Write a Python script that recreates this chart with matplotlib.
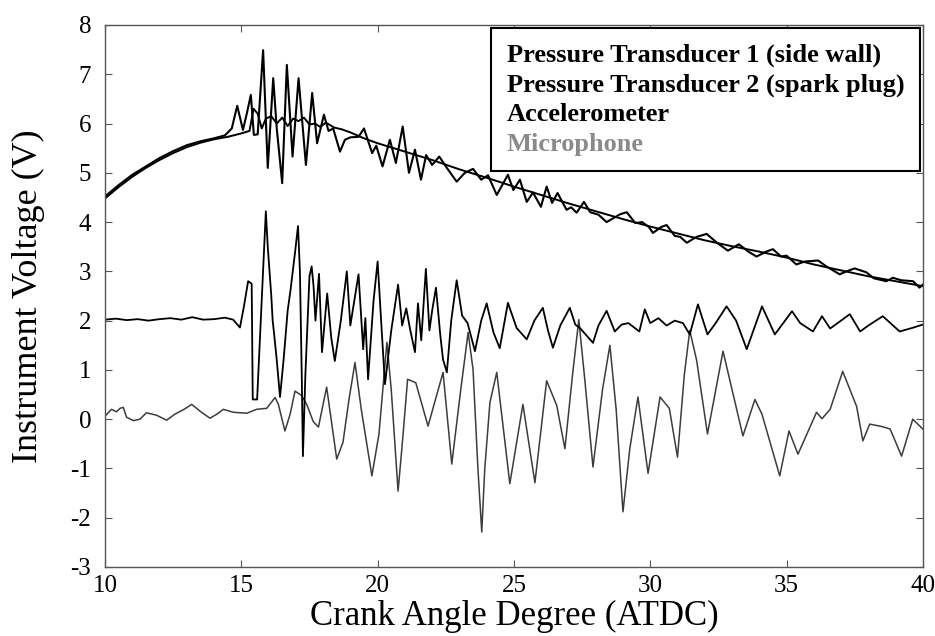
import matplotlib
matplotlib.use("Agg")
import matplotlib.pyplot as plt
from matplotlib.lines import Line2D
from matplotlib.font_manager import FontProperties

# Pressure transducer 1 (side wall): knocking trace
p1_x = [10.0, 10.5, 11.0, 11.5, 12.0, 12.5, 13.0, 13.5, 14.0, 14.4, 14.65, 14.85,
        15.06, 15.2, 15.35, 15.46, 15.6, 15.8, 15.97, 16.17, 16.3, 16.5, 16.67,
        16.88, 17.1, 17.37, 17.6, 17.78, 18.03, 18.2, 18.37, 18.62, 18.8, 19.0,
        19.3, 19.5, 19.8, 19.95, 20.18, 20.45, 20.67, 20.92, 21.15, 21.37, 21.59,
        21.78, 22.0, 22.26, 22.54, 22.9, 23.2, 23.5, 23.8, 24.05, 24.37, 24.78,
        24.98, 25.22, 25.47, 25.7, 25.99, 26.2, 26.4, 26.6, 26.93, 27.1, 27.3,
        27.57, 27.8, 28.1, 28.4, 28.65, 28.9, 29.14, 29.45, 29.7, 29.95, 30.1,
        30.4, 30.6, 30.9, 31.1, 31.34, 31.7, 32.07, 32.45, 32.85, 33.25, 33.6,
        33.9, 34.25, 34.5, 34.8, 35.0, 35.36, 35.67, 36.16, 36.46, 36.95, 37.2,
        37.5, 37.93, 38.2, 38.66, 38.9, 39.2, 39.64, 39.88, 40.0]
p1_y = [4.52, 4.75, 4.96, 5.13, 5.3, 5.44, 5.56, 5.64, 5.7, 5.76, 5.9, 6.36,
        5.87, 6.2, 6.58, 5.77, 5.78, 7.49, 5.1, 6.92, 5.9, 4.79, 7.19,
        5.33, 6.92, 5.16, 6.62, 5.6, 6.18, 5.85, 5.9, 5.43, 5.67, 5.72,
        5.73, 5.9, 5.4, 5.55, 5.13, 5.67, 5.2, 5.94, 5.0, 5.47, 4.86,
        5.36, 5.16, 5.33, 5.1, 4.82, 5.0, 5.08, 4.86, 4.95, 4.55, 4.96,
        4.65, 4.86, 4.41, 4.6, 4.31, 4.72, 4.39, 4.59, 4.25, 4.3, 4.19,
        4.41, 4.2, 4.15, 4.0, 4.08, 4.16, 4.2, 3.98, 4.0, 3.9, 3.78,
        3.9, 3.94, 3.72, 3.7, 3.58, 3.7, 3.76, 3.58, 3.42, 3.55, 3.4,
        3.3, 3.4, 3.45, 3.3, 3.32, 3.14, 3.2, 3.22, 3.1, 2.94, 3.0,
        3.06, 2.98, 2.86, 2.8, 2.87, 2.82, 2.8, 2.67, 2.73]

# Pressure transducer 2 (spark plug): smoother trace
p2_x = [10.0, 10.5, 11.0, 11.5, 12.0, 12.5, 13.0, 13.5, 14.0, 14.5, 15.0, 15.3,
        15.45, 15.6, 15.75, 15.9, 16.1, 16.3, 16.5, 16.7, 16.9, 17.1, 17.3, 17.5,
        17.7, 17.9, 18.1, 18.4, 18.7, 19.0, 19.5, 20.0, 21.0, 22.0, 23.0, 24.0,
        25.0, 26.0, 27.0, 28.0, 29.0, 30.0, 31.0, 32.0, 33.0, 34.0, 35.0, 36.0,
        37.0, 38.0, 39.0, 40.0]
p2_y = [4.48, 4.71, 4.92, 5.1, 5.26, 5.4, 5.52, 5.61, 5.68, 5.73, 5.8, 5.85,
        6.3, 6.2, 5.9, 6.1, 6.15, 6.0, 6.12, 5.95, 6.1, 6.05, 6.12, 5.98,
        6.0, 5.93, 6.02, 5.92, 5.88, 5.82, 5.7, 5.6, 5.43, 5.26, 5.07, 4.9,
        4.72, 4.55, 4.38, 4.22, 4.06, 3.91, 3.77, 3.63, 3.51, 3.4, 3.28, 3.14,
        3.02, 2.9, 2.8, 2.7]

# Accelerometer
acc_x = [10.0, 10.4, 10.8, 11.2, 11.6, 12.0, 12.4, 12.8, 13.2, 13.6, 14.0, 14.4,
         14.7, 14.95, 15.1, 15.25, 15.38, 15.42, 15.58, 15.9, 15.97, 16.1, 16.15,
         16.2, 16.3, 16.42, 16.55, 16.7, 16.8, 16.97, 17.08, 17.15, 17.22, 17.26,
         17.35, 17.5, 17.58, 17.65, 17.72, 17.85, 17.96, 18.15, 18.3, 18.43, 18.65,
         18.87, 19.0, 19.1, 19.3, 19.47, 19.55, 19.65, 19.85, 20.0, 20.15, 20.27,
         20.5, 20.75, 20.9, 21.05, 21.2, 21.37, 21.48, 21.6, 21.77, 21.9, 22.0,
         22.14, 22.3, 22.4, 22.54, 22.7, 22.9, 23.1, 23.3, 23.57, 23.8, 24.0,
         24.25, 24.48, 24.78, 25.1, 25.47, 25.75, 26.06, 26.25, 26.43, 26.7,
         27.05, 27.25, 27.42, 27.9, 28.1, 28.4, 28.7, 28.95, 29.2, 29.6, 29.8,
         30.0, 30.3, 30.6, 30.9, 31.2, 31.45, 31.75, 32.1, 32.4, 32.8, 33.15,
         33.54, 34.1, 34.57, 35.2, 35.5, 35.97, 36.3, 36.6, 37.32, 37.7, 38.0,
         38.53, 39.15, 39.6, 40.0]
acc_y = [2.02, 2.04, 2.01, 2.03, 2.0, 2.03, 2.05, 2.02, 2.07, 2.02, 2.03, 2.06,
         2.02, 1.86, 2.3, 2.8, 2.75, 0.4, 0.4, 4.22, 3.5, 2.5, 2.0,
         1.75, 1.2, 0.45, 1.2, 2.2, 2.6, 3.38, 3.92, 3.0, 0.8, -0.75,
         0.9, 2.9, 3.1, 2.7, 2.0, 2.95, 1.36, 2.55, 1.65, 1.18, 2.0,
         3.0, 1.9, 2.25, 2.94, 1.42, 2.05, 0.81, 2.4, 3.2, 1.8, 0.71,
         1.8, 2.73, 1.9, 2.25, 1.8, 1.36, 2.35, 1.6, 3.05, 1.8, 2.2,
         2.67, 1.7, 1.21, 0.95, 2.0, 2.82, 2.1, 1.95, 1.38, 2.0, 2.35,
         1.76, 1.44, 2.36, 1.85, 1.62, 2.0, 2.26, 1.8, 1.45, 1.9,
         2.26, 1.92, 1.85, 1.55, 1.9, 2.2, 1.78, 1.92, 1.95, 1.78, 2.23,
         1.95, 2.05, 1.9, 2.0, 1.95, 1.72, 2.33, 1.72, 1.95, 2.29, 2.0,
         1.42, 2.29, 1.72, 2.19, 1.95, 1.78, 2.09, 1.84, 2.13, 1.78, 1.9,
         2.09, 1.78, 1.85, 1.92]

# Microphone
mic_x = [10.0, 10.24, 10.42, 10.55, 10.67, 10.79, 11.04, 11.28, 11.52, 11.89, 12.26,
         12.56, 12.9, 13.18, 13.54, 13.85, 14.1, 14.34, 14.71, 15.2, 15.56, 15.93,
         16.24, 16.36, 16.6, 16.79, 16.97, 17.21, 17.4, 17.64, 17.83, 18.13, 18.5,
         18.73, 18.95, 19.17, 19.4, 19.79, 20.05, 20.34, 20.5, 20.75, 20.92, 21.1,
         21.4, 21.85, 22.4, 22.72, 23.05, 23.32, 23.5, 23.68, 23.82, 23.93, 24.12,
         24.37, 24.85, 25.33, 25.77, 26.2, 26.57, 26.87, 27.15, 27.38, 27.6, 27.9,
         28.25, 28.52, 28.75, 29.0, 29.25, 29.55, 29.92, 30.36, 30.7, 31.0, 31.25,
         31.45, 31.7, 32.1, 32.67, 33.4, 33.84, 34.1, 34.75, 35.09, 35.42, 36.1,
         36.3, 36.6, 37.06, 37.57, 37.8, 38.05, 38.5, 38.8, 39.22, 39.63, 40.0]
mic_y = [0.06, 0.2, 0.15, 0.22, 0.24, 0.04, -0.03, 0.0, 0.13, 0.08, -0.02,
         0.1, 0.2, 0.3, 0.14, 0.02, 0.1, 0.2, 0.14, 0.12, 0.2, 0.22,
         0.44, 0.3, -0.24, 0.1, 0.57, 0.48, 0.3, -0.05, -0.16, 0.65, -0.81,
         -0.47, 0.4, 1.15, 0.2, -1.15, -0.3, 1.56, 0.6, -1.46, -0.4, 0.81,
         0.74, -0.14, 0.95, -0.91, 0.6, 1.76, 1.01, -1.01, -2.29, -1.01, 0.34,
         0.95, -1.31, 0.3, -1.29, 0.78, 0.28, -0.6, 0.9, 2.02, 0.8, -0.97,
         0.6, 1.5, 0.2, -1.88, -0.6, 0.45, -1.1, 0.45, 0.22, -0.77, 0.9,
         1.8, 1.2, -0.3, 1.38, -0.34, 0.4, 0.1, -1.15, -0.24, -0.71, 0.14,
         0.01, 0.2, 0.97, 0.26, -0.44, -0.1, -0.15, -0.2, -0.75, 0.0, -0.2]

series_labels = ["Pressure Transducer 1 (side wall)",
                 "Pressure Transducer 2 (spark plug)",
                 "Accelerometer",
                 "Microphone"]
label_colors = ["black", "black", "black", "#8a8a8a"]

x_ticks = [10, 15, 20, 25, 30, 35, 40]
y_ticks = [-3, -2, -1, 0, 1, 2, 3, 4, 5, 6, 7, 8]

plt.rcParams["font.family"] = ["Liberation Serif", "DejaVu Serif"]
plt.rcParams["axes.unicode_minus"] = False

fig = plt.figure(figsize=(9.35, 6.36), dpi=100)
ax = fig.add_axes([0.1123, 0.1085, 0.8747, 0.8522])

ax.plot(mic_x, mic_y, color="#3c3c3c", lw=1.1)
ax.plot(acc_x, acc_y, color="black", lw=1.3)
ax.plot(p2_x, p2_y, color="black", lw=1.4)
ax.plot(p1_x, p1_y, color="black", lw=1.5)

ax.set_xlim(10, 40)
ax.set_ylim(-3, 8)
ax.set_xticks(x_ticks)
ax.set_yticks(y_ticks)
ax.tick_params(direction="in", top=True, right=True, length=5, width=0.8,
               color="#555555", labelsize=18)
ax.tick_params(axis="x", pad=6)
ax.tick_params(axis="y", pad=10)
for s in ax.spines.values():
    s.set_color("#555555")
    s.set_linewidth(1.0)

ax.set_xlabel("Crank Angle Degree (ATDC)", fontsize=25, labelpad=2)
ax.set_ylabel("Instrument Voltage (V)", fontsize=26, labelpad=18)

legend_font = FontProperties(family="Liberation Serif", weight="bold", size=19)
handles = [Line2D([], [], lw=0) for _ in series_labels]
leg = ax.legend(handles, series_labels, loc="upper right", handlelength=0,
                handletextpad=0, borderaxespad=0.1, fancybox=False,
                framealpha=1, edgecolor="black", prop=legend_font,
                labelspacing=0.22, borderpad=0.6)
leg.get_frame().set_linewidth(1.5)
for t, c in zip(leg.get_texts(), label_colors):
    t.set_color(c)

fig.savefig("out.png", dpi=100)
